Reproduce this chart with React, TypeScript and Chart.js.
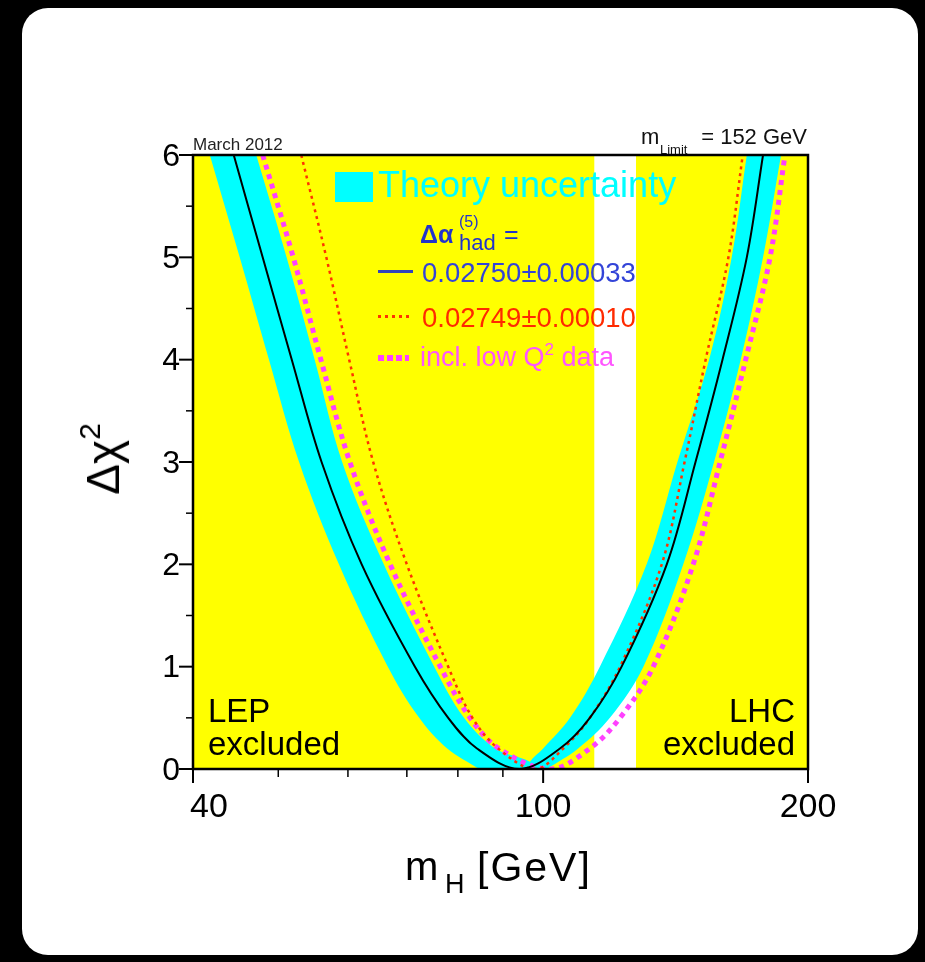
import React, { useEffect, useRef } from "react";
import { Chart, registerables } from "chart.js";

Chart.register(...registerables);

// ---------------- data ----------------
const massRange = [40, 200];
const chi2Range = [0, 6];

const lepExcludedMass = [40, 114.4];
const lhcExcludedMass = [127.5, 200];

// Δχ² levels at which the curves were read (left branch, minimum, right branch)
const curveChi2 = [6, 5, 4, 3, 2, 1, 0.5, 0.2, 0, 0.2, 0.5, 1, 2, 3, 4, 5, 6];
// Δα_had = 0.02750 ± 0.00033 (black solid)
const blackMass = [44.5, 48.0, 51.8, 56.0, 62.2, 71.5, 78.0, 84.1, 94.0, 104.5, 113.0, 122.8, 138.2, 149.0, 159.9, 170.4, 177.8];
// Δα_had = 0.02749 ± 0.00010 (red dotted)
const redMass = [53.1, 56.7, 60.2, 64.1, 70.0, 78.0, 83.1, 88.9, 97.9, 105.4, 113.0, 122.3, 136.4, 144.8, 153.0, 162.4, 168.6];
// incl. low Q² data (magenta dotted)
const magentaMass = [48.0, 52.0, 55.9, 60.3, 67.0, 76.4, 82.6, 89.1, 101.8, 113.0, 122.3, 133.4, 148.1, 158.9, 169.9, 181.1, 188.3];

// Theory-uncertainty band edges, each read bottom -> top
const bandEdgeChi2 = [0, 0.2, 0.5, 1, 2, 3, 4, 5, 6];
const bandLeftOuterMass = [84.6, 77.8, 72.3, 66.6, 58.6, 52.8, 48.8, 45.2, 41.8];
const bandRightOuterMass = [101.0, 109.6, 119.1, 130.0, 144.3, 156.4, 167.7, 177.8, 186.4];
// inner edges meet at the notch of the band
const bandInnerChi2 = [0, 0.07, 0.2, 0.5, 1, 2, 3, 4, 5, 6];
const bandLeftInnerMass = [96.6, 96.6, 88.2, 81.3, 75.2, 65.9, 59.1, 55.0, 51.1, 47.2];
const bandRightInnerMass = [96.6, 96.6, 100.0, 107.3, 116.0, 131.1, 142.1, 154.4, 163.8, 170.4];

const yMajorTicks = [0, 1, 2, 3, 4, 5, 6];
const yMinorTicks = [0.5, 1.5, 2.5, 3.5, 4.5, 5.5];
const xMajorTicks = [40, 100, 200];
const xMinorTicks = [50, 60, 70, 80, 90];

// ---------------- styling ----------------
const FONT = '"Liberation Sans", Arial, Helvetica, sans-serif';
const YELLOW = "#ffff00";
const CYAN = "#00ffff";
const RED = "#ff3300";
const MAGENTA = "#ff40ff";
const BLUE = "#3344d8";

const pts = (xs: number[], ys: number[]) => xs.map((x, i) => ({ x, y: ys[i] }));

const axesDecor = {
  id: "axesDecor",
  afterDatasetsDraw(chart: any) {
    const { ctx, chartArea: a, scales } = chart;
    const x = scales.x;
    const y = scales.y;
    ctx.save();
    ctx.strokeStyle = "#000";
    ctx.fillStyle = "#000";
    const seg = (x1: number, y1: number, x2: number, y2: number, w: number) => {
      ctx.lineWidth = w;
      ctx.beginPath();
      ctx.moveTo(x1, y1);
      ctx.lineTo(x2, y2);
      ctx.stroke();
    };
    yMajorTicks.forEach((v) => {
      const p = y.getPixelForValue(v);
      seg(a.left - 14, p, a.left, p, 2);
    });
    yMinorTicks.forEach((v) => {
      const p = y.getPixelForValue(v);
      seg(a.left - 7, p, a.left, p, 1.5);
    });
    xMajorTicks.forEach((v) => {
      const p = x.getPixelForValue(v);
      seg(p, a.bottom, p, a.bottom + 14, 2);
    });
    xMinorTicks.forEach((v) => {
      const p = x.getPixelForValue(v);
      seg(p, a.bottom, p, a.bottom + 8, 1.5);
    });
    ctx.lineWidth = 2.5;
    ctx.strokeRect(a.left, a.top, a.right - a.left, a.bottom - a.top);
    ctx.font = `32px ${FONT}`;
    ctx.textAlign = "right";
    ctx.textBaseline = "middle";
    yMajorTicks.forEach((v) => {
      ctx.fillText(String(v), a.left - 13, y.getPixelForValue(v) + 2);
    });
    ctx.font = `34px ${FONT}`;
    ctx.textBaseline = "alphabetic";
    xMajorTicks.forEach((v, i) => {
      const p = x.getPixelForValue(v);
      if (i === 0) {
        ctx.textAlign = "left";
        ctx.fillText(String(v), p - 3, a.bottom + 48);
      } else {
        ctx.textAlign = "center";
        ctx.fillText(String(v), p, a.bottom + 48);
      }
    });
    ctx.restore();
  },
};

type TxtProps = {
  x: number;
  base: number;
  size: number;
  color?: string;
  align?: "left" | "right";
  weight?: number | string;
  spacing?: number;
  children: React.ReactNode;
};
const Txt = ({ x, base, size, color = "#000", align = "left", weight = 400, spacing = 0, children }: TxtProps) => {
  const style: React.CSSProperties = {
    position: "absolute",
    top: base - 0.8465 * size,
    fontSize: size,
    lineHeight: 1,
    color,
    whiteSpace: "nowrap",
    fontWeight: weight as any,
    letterSpacing: spacing,
    fontFamily: FONT,
  };
  if (align === "left") style.left = x;
  else style.right = 925 - x;
  return <div style={style}>{children}</div>;
};

export default function App() {
  const ref = useRef<HTMLCanvasElement | null>(null);

  useEffect(() => {
    if (!ref.current) return;
    const bandEdge = (label: string, xs: number[], ys: number[], fill: any) => ({
      label,
      data: pts(xs, ys),
      indexAxis: "y",
      fill,
      backgroundColor: CYAN,
      borderColor: CYAN,
      borderWidth: 0,
      pointRadius: 0,
      tension: 0.35,
      order: 5,
    });
    const chart = new Chart(ref.current, {
      type: "line",
      data: {
        datasets: [
          {
            label: "LEP excluded",
            data: pts(lepExcludedMass, [chi2Range[1], chi2Range[1]]),
            fill: "origin",
            backgroundColor: YELLOW,
            borderWidth: 0,
            pointRadius: 0,
            order: 10,
          },
          {
            label: "LHC excluded",
            data: pts(lhcExcludedMass, [chi2Range[1], chi2Range[1]]),
            fill: "origin",
            backgroundColor: YELLOW,
            borderWidth: 0,
            pointRadius: 0,
            order: 10,
          },
          bandEdge("Theory uncertainty", bandLeftOuterMass, bandEdgeChi2, "+1"),
          bandEdge("band inner left", bandLeftInnerMass, bandInnerChi2, false),
          bandEdge("band inner right", bandRightInnerMass, bandInnerChi2, "+1"),
          bandEdge("band outer right", bandRightOuterMass, bandEdgeChi2, false),
          {
            label: "incl. low Q² data",
            data: pts(magentaMass, curveChi2),
            fill: false,
            borderColor: MAGENTA,
            borderWidth: 5,
            borderDash: [5, 5],
            pointRadius: 0,
            tension: 0.35,
            order: 3,
          },
          {
            label: "0.02749±0.00010",
            data: pts(redMass, curveChi2),
            fill: false,
            borderColor: RED,
            borderWidth: 2.5,
            borderDash: [3, 4],
            pointRadius: 0,
            tension: 0.35,
            order: 2,
          },
          {
            label: "0.02750±0.00033",
            data: pts(blackMass, curveChi2),
            fill: false,
            borderColor: "#000",
            borderWidth: 2,
            pointRadius: 0,
            tension: 0.35,
            order: 1,
          },
        ],
      },
      options: {
        animation: false,
        responsive: false,
        maintainAspectRatio: false,
        devicePixelRatio: 1,
        layout: { padding: { left: 193, top: 155, right: 117, bottom: 193 } },
        scales: {
          x: { type: "logarithmic", min: massRange[0], max: massRange[1], display: false },
          y: { type: "linear", min: chi2Range[0], max: chi2Range[1], display: false },
        },
        plugins: {
          legend: { display: false },
          tooltip: { enabled: false },
        },
        events: [],
      },
      plugins: [axesDecor],
    } as any);
    return () => chart.destroy();
  }, []);

  return (
    <div
      style={{
        position: "fixed",
        left: 0,
        top: 0,
        width: 925,
        height: 962,
        background: "#000",
        overflow: "hidden",
        fontFamily: FONT,
      }}
    >
      <div
        style={{
          position: "absolute",
          left: 22,
          top: 8,
          width: 896,
          height: 947,
          background: "#fff",
          borderRadius: 26,
        }}
      />
      <canvas
        ref={ref}
        width={925}
        height={962}
        style={{ position: "absolute", left: 0, top: 0, width: 925, height: 962 }}
      />

      {/* top annotations */}
      <Txt x={193} base={150} size={17} color="#222">March 2012</Txt>
      <Txt x={641} base={145} size={22} color="#111">m</Txt>
      <Txt x={660} base={154} size={13} color="#111">Limit</Txt>
      <Txt x={807} base={145} size={22} color="#111" align="right">= 152 GeV</Txt>

      {/* legend */}
      <div style={{ position: "absolute", left: 335, top: 172, width: 38, height: 30, background: CYAN }} />
      <Txt x={378} base={197} size={36} color={CYAN}>Theory uncertainty</Txt>
      <Txt x={420} base={243} size={25} color="#2233cc" weight={700}>Δα</Txt>
      <Txt x={459} base={228} size={16} color="#2233cc">(5)</Txt>
      <Txt x={459} base={251} size={22} color="#2233cc">had</Txt>
      <Txt x={504} base={243} size={25} color="#2233cc">=</Txt>

      <div style={{ position: "absolute", left: 378, top: 270, width: 35, height: 3, background: "#3344bb" }} />
      <Txt x={422} base={282} size={27.5} color={BLUE}>0.02750±0.00033</Txt>

      <div
        style={{
          position: "absolute",
          left: 378,
          top: 315,
          width: 35,
          height: 2.5,
          background: `repeating-linear-gradient(to right, ${RED} 0 3px, transparent 3px 7px)`,
        }}
      />
      <Txt x={422} base={327} size={27.5} color="#ff2a00">0.02749±0.00010</Txt>

      <div
        style={{
          position: "absolute",
          left: 378,
          top: 355,
          width: 31,
          height: 6,
          background: `repeating-linear-gradient(to right, ${MAGENTA} 0 6px, transparent 6px 9px)`,
        }}
      />
      <Txt x={420} base={367} size={27} color="#ff55ff">
        incl. low Q<span style={{ fontSize: 17, position: "relative", top: -11 }}>2</span> data
      </Txt>

      {/* excluded labels */}
      <Txt x={208} base={722} size={33}>LEP</Txt>
      <Txt x={208} base={755} size={33}>excluded</Txt>
      <Txt x={795} base={722} size={33} align="right">LHC</Txt>
      <Txt x={795} base={755} size={33} align="right">excluded</Txt>

      {/* axis titles */}
      <Txt x={405} base={880} size={40}>m</Txt>
      <Txt x={445} base={894} size={27}>H</Txt>
      <Txt x={477} base={882} size={41} spacing={2}>[GeV]</Txt>

      <div
        style={{
          position: "absolute",
          left: 103,
          top: 459,
          transform: "translate(-50%, -50%) rotate(-90deg)",
          fontSize: 46,
          lineHeight: 1,
          whiteSpace: "nowrap",
          fontFamily: FONT,
          color: "#000",
        }}
      >
        Δχ<span style={{ fontSize: 30, position: "relative", top: -19 }}>2</span>
      </div>
    </div>
  );
}
